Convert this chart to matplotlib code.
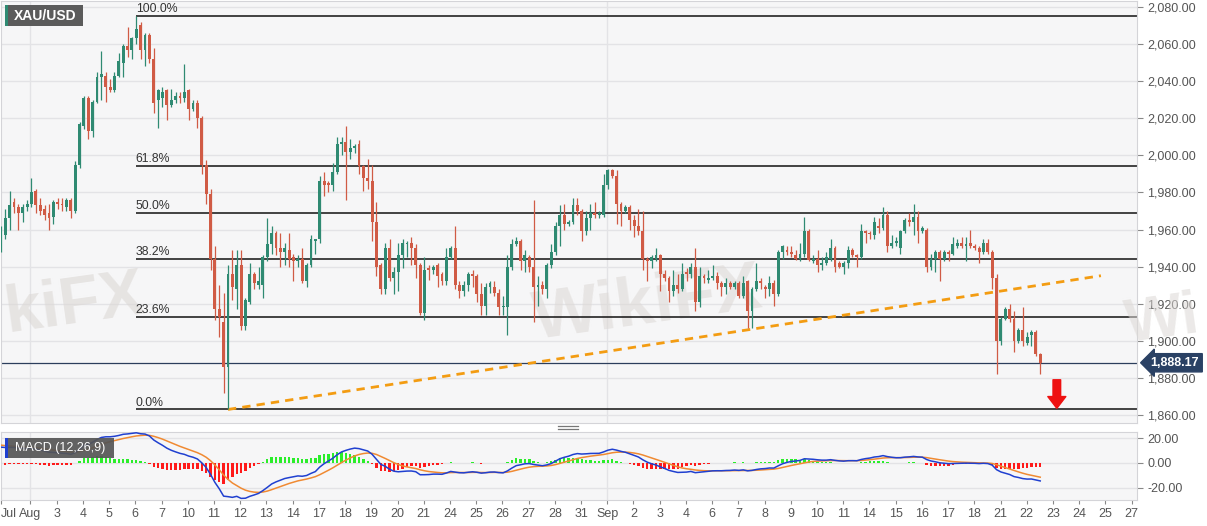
import numpy as np
import matplotlib
matplotlib.use("Agg")
import matplotlib.pyplot as plt
from matplotlib.patches import Rectangle
from matplotlib.lines import Line2D

plt.rcParams['font.family'] = ['Liberation Sans', 'DejaVu Sans']

# XAU/USD 4H candles, Jul 31 - Sep 22
opens = [1952, 1957, 1966, 1975, 1972, 1969, 1972, 1974, 1981, 1973, 1971, 1969, 1967, 1975, 1974, 1972, 1976, 1970, 1995, 2016,
         2031, 2013, 2029, 2042, 2043, 2037, 2035, 2043, 2050, 2059, 2057, 2063, 2070, 2057, 2065, 2052, 2030, 2031, 2035, 2027,
         2030, 2032, 2031, 2035, 2025, 2028, 2020, 1995, 1979, 1944, 1917, 1910, 1886, 1936, 1928, 1941, 1908, 1921, 1936, 1930,
         1930, 1945, 1952, 1958, 1950, 1948, 1949, 1945, 1943, 1944, 1932, 1941, 1954, 1955, 1986, 1985, 1984, 1991, 2006, 2007,
         2002, 2004, 2006, 1994, 1988, 1986, 1964, 1941, 1928, 1950, 1934, 1937, 1946, 1952, 1953, 1950, 1941, 1915, 1939, 1938,
         1941, 1936, 1932, 1945, 1950, 1930, 1927, 1930, 1936, 1935, 1925, 1919, 1929, 1929, 1926, 1918, 1918, 1940, 1952, 1954,
         1943, 1945, 1940, 1929, 1930, 1928, 1941, 1948, 1962, 1968, 1963, 1964, 1973, 1970, 1959, 1966, 1969, 1968, 1968, 1984,
         1992, 1989, 1974, 1970, 1972, 1965, 1962, 1959, 1944, 1943, 1944, 1946, 1936, 1934, 1927, 1930, 1928, 1937, 1936, 1940,
         1921, 1935, 1933, 1934, 1935, 1931, 1929, 1931, 1929, 1931, 1924, 1932, 1916, 1928, 1932, 1929, 1928, 1931, 1925, 1948,
         1949, 1948, 1946, 1944, 1947, 1959, 1943, 1944, 1941, 1942, 1944, 1950, 1942, 1940, 1942, 1949, 1946, 1945, 1959, 1958,
         1957, 1962, 1961, 1968, 1951, 1953, 1950, 1959, 1965, 1964, 1967, 1959, 1960, 1940, 1944, 1948, 1944, 1948, 1947, 1951,
         1953, 1951, 1953, 1951, 1950, 1948, 1953, 1948, 1934, 1900, 1912, 1917, 1912, 1900, 1906, 1899, 1903, 1905, 1893]
highs = [1962, 1971, 1981, 1977, 1974, 1974, 1976, 1988, 1982, 1977, 1973, 1974, 1976, 1977, 1977, 1977, 1977, 1997, 2018, 2032,
         2032, 2030, 2045, 2056, 2045, 2041, 2045, 2055, 2060, 2069, 2064, 2075.2, 2072, 2066, 2066, 2058, 2036, 2037, 2036, 2036,
         2034, 2034, 2049, 2036, 2030, 2030, 2021, 1997.6, 1982, 1951, 1930, 1926, 1941, 1949, 1949, 1949, 1923, 1942, 1937, 1940,
         1946, 1966, 1962, 1959, 1958, 1953, 1958, 1947, 1946, 1950, 1942, 1957, 1955, 1989, 1991, 1986, 1996, 2010, 2010, 2016,
         2009, 2006, 2008, 1995, 1998, 1995, 1975, 1942, 1953, 1955, 1940, 1953, 1955, 1954, 1956, 1952, 1942, 1945, 1941, 1941,
         1942, 1937, 1950, 1951, 1962, 1932, 1932, 1937, 1938, 1936, 1931, 1931, 1932, 1932, 1928, 1924, 1946, 1955, 1956, 1955,
         1949, 1946, 1976, 1935, 1932, 1942, 1952, 1964, 1973, 1974, 1965, 1977, 1977, 1971, 1970, 1974, 1975, 1970, 1990, 1992.5,
         1992.5, 1992, 1975, 1973, 1973, 1968, 1971, 1970, 1945, 1946, 1950, 1947, 1938, 1935, 1938, 1936, 1942, 1939, 1942, 1950,
         1940, 1936, 1938, 1941, 1937, 1932, 1934, 1932, 1932, 1932, 1935, 1933, 1929, 1942, 1934, 1930, 1935, 1933, 1949, 1951.5,
         1951, 1951, 1949, 1953, 1966.5, 1960.5, 1946, 1949, 1945, 1948, 1955, 1951, 1943, 1943, 1951, 1950, 1947, 1963, 1960, 1959,
         1967, 1966, 1972, 1970, 1957, 1956, 1960, 1966, 1969, 1974, 1970, 1962, 1961, 1947, 1949, 1949, 1949, 1949, 1956, 1955,
         1956, 1956, 1960, 1952, 1951, 1955, 1955, 1949, 1936, 1913, 1918.5, 1920, 1916, 1907, 1918, 1905, 1906, 1906, 1893.5]
lows = [1948, 1955, 1960, 1969, 1960, 1964, 1970, 1972, 1969, 1968, 1965, 1960, 1963, 1971, 1970, 1970, 1966, 1969, 1993, 2014,
        2009, 2010, 2028, 2030, 2029, 2034, 2034, 2042, 2042, 2053, 2052, 2060, 2052, 2048, 2050, 2023, 2015, 2026, 2019, 2026,
        2028, 2028, 2029, 2019, 2024, 2015, 1990, 1974, 1938, 1911, 1902, 1872, 1863, 1922, 1917, 1906, 1906, 1920, 1928, 1928,
        1923, 1943, 1947, 1946, 1940, 1941, 1940, 1932, 1940, 1931, 1929, 1940, 1947, 1953, 1978, 1980, 1981, 1990, 2000, 1976,
        1998, 2001, 1990, 1981, 1982, 1954, 1935, 1925, 1925, 1932, 1925, 1927, 1939, 1945, 1941, 1934, 1914, 1911, 1933, 1936,
        1929, 1930, 1930, 1944, 1928, 1923, 1924, 1927, 1929, 1921, 1914, 1914, 1926, 1924, 1914, 1914, 1903, 1938, 1951, 1938,
        1937, 1937, 1910, 1919, 1925, 1923, 1939, 1946, 1951, 1960, 1962, 1963, 1968, 1954, 1957, 1960, 1966, 1966, 1967, 1982,
        1988, 1963, 1962, 1969, 1960, 1956, 1957, 1938, 1932, 1939, 1943, 1927, 1932, 1921, 1924, 1926, 1927, 1932, 1934, 1916,
        1918, 1931, 1931, 1933, 1928, 1924, 1925, 1928, 1928, 1923, 1923, 1907, 1907, 1927, 1928, 1923, 1924, 1919, 1924, 1944,
        1946, 1945, 1943.5, 1943, 1945, 1943, 1942, 1937, 1938, 1941, 1943, 1937, 1939, 1936, 1939, 1945, 1940, 1944, 1953, 1955,
        1955, 1958, 1960, 1948, 1950, 1951, 1947, 1958, 1962, 1957, 1953, 1958, 1937, 1938, 1937, 1932, 1943, 1943, 1946, 1950,
        1950, 1943, 1950, 1949, 1942, 1947, 1947, 1928, 1882, 1898, 1911, 1910, 1894, 1899, 1897, 1898, 1897, 1892, 1882]
closes = [1958, 1966, 1973, 1972, 1969, 1972, 1974, 1980, 1973, 1970, 1968, 1966, 1975, 1974, 1973, 1976, 1970, 1995, 2017, 2031,
          2013, 2029, 2042, 2044, 2037, 2035, 2043, 2051, 2059, 2057, 2063, 2068, 2057, 2065, 2052, 2028, 2035, 2034, 2027, 2030,
          2032, 2031, 2034, 2025, 2028, 2020, 1995, 1979, 1944, 1917, 1913, 1886, 1936, 1929, 1941, 1908, 1922, 1936, 1931, 1932,
          1945, 1952, 1958, 1950, 1948, 1950, 1944, 1943, 1944, 1932, 1941, 1955, 1955, 1986, 1984, 1984, 1991, 2006, 2007, 2002,
          2004, 2005, 1994, 1988, 1986, 1964, 1940, 1928, 1950, 1934, 1937, 1946, 1953, 1953, 1950, 1941, 1915, 1938, 1938, 1940,
          1935, 1932, 1945, 1950, 1930, 1927, 1930, 1936, 1935, 1925, 1919, 1929, 1931, 1926, 1918, 1919, 1940, 1952, 1954, 1943,
          1946, 1940, 1929, 1930, 1928, 1941, 1948, 1962, 1968, 1963, 1964, 1973, 1970, 1959, 1966, 1969, 1968, 1969, 1984, 1992,
          1989, 1974, 1970, 1972, 1965, 1962, 1959, 1944, 1943, 1945, 1946, 1936, 1934, 1927, 1930, 1928, 1936, 1936, 1940, 1921,
          1935, 1934, 1934, 1935, 1931, 1929, 1931, 1929, 1931, 1924, 1931, 1916, 1928, 1932, 1931, 1928, 1931, 1925, 1948, 1951,
          1948, 1947, 1944, 1947, 1959, 1943.5, 1944, 1941, 1942, 1945, 1950, 1940, 1940, 1942, 1949, 1946, 1945, 1959, 1958, 1957.5,
          1964, 1961, 1968, 1951, 1953, 1954, 1959, 1965, 1964, 1967, 1959, 1961, 1940, 1944, 1948, 1944, 1948, 1947, 1952, 1953,
          1951, 1952, 1951, 1950, 1948, 1953, 1948, 1934, 1900, 1912, 1917, 1912, 1900, 1906, 1900, 1902, 1905, 1893, 1888.17]

day_labels = ["Jul", "Aug", "3", "4", "5", "6", "7", "10", "11", "12", "13", "14", "17", "18", "19", "20", "21",
              "24", "25", "26", "27", "28", "31", "Sep", "2", "3", "4", "6", "7", "8", "9", "10", "11", "14", "15",
              "16", "17", "18", "21", "22", "23", "24", "25", "27"]
month_starts = ["Aug", "Sep"]

fib_pcts = [0.0, 23.6, 38.2, 50.0, 61.8, 100.0]
swing_high = 2075.2
swing_low = 1863.0
high_bar = 31
low_bar = 52
trend_end_bar = 251.9
trend_end_price = 1935.1
last_price = 1888.17
macd_start = 14.0
signal_start = 15.0

GREEN = '#2f8a72'
RED = '#d05b45'
BG = '#f6f6f7'
GRID = '#e3e3e6'
TXT = '#555555'
WMARK = '#dcd8d5'

n = len(closes)
x = np.arange(n)
o = np.array(opens, float)
c = np.array(closes, float)
hi = np.array(highs, float)
lo = np.array(lows, float)

# macd 12,26,9
a12, a26, a9 = 2 / 13, 2 / 27, 2 / 10
e12 = c[0]
e26 = c[0] - macd_start
sig = signal_start
macd = []
signal = []
for p in c:
    e12 += a12 * (p - e12)
    e26 += a26 * (p - e26)
    m = e12 - e26
    sig += a9 * (m - sig)
    macd.append(m)
    signal.append(sig)
macd = np.array(macd)
signal = np.array(signal)
hist = macd - signal

W, H = 1207, 526
fig = plt.figure(figsize=(W / 100, H / 100), dpi=100)


def px(l, t, r, b):
    return [l / W, 1 - b / H, (r - l) / W, (b - t) / H]


ax = fig.add_axes(px(1, 1, 1137, 423))
ax2 = fig.add_axes(px(1, 432, 1137, 500))

ylo, yhi = 1855.7, 2083.2
xmin, xmax = 0.02, 260.16
tick_pos = [0.76 + 6.004 * k for k in range(len(day_labels))]
tick_pos[0] = xmin + 0.05

for a in (ax, ax2):
    a.set_facecolor(BG)
    a.set_xlim(xmin, xmax)
    for s in a.spines.values():
        s.set_color('#d4d4d8')
        s.set_linewidth(0.8)
    a.yaxis.tick_right()
    a.tick_params(axis='y', colors='#888888', labelcolor=TXT, labelsize=9, length=4, width=0.8)
    a.set_axisbelow(True)
    for k, lab in enumerate(day_labels):
        if lab in month_starts:
            a.axvline(tick_pos[k], color=GRID, lw=1, zorder=0)

# main panel
ax.set_ylim(ylo, yhi)
yt = np.arange(1860, 2081, 20)
ax.set_yticks(yt)
ax.set_yticklabels(['{:,.2f}'.format(v) for v in yt])
ax.set_xticks([])
for v in yt:
    ax.axhline(v, color=GRID, lw=1, zorder=0)

# watermark
ax.text(0.0, 0.215, 'kiFX', transform=ax.transAxes, fontsize=48, fontweight='bold',
        color=WMARK, alpha=0.6, rotation=8, zorder=0.5)
ax.text(0.465, 0.2, 'WikiFX', transform=ax.transAxes, fontsize=50, fontweight='bold',
        color=WMARK, alpha=0.55, rotation=8, zorder=0.5)
fig.text(1122 / W, 1 - 342 / H, 'Wi', fontsize=44, fontweight='bold',
         color=WMARK, alpha=0.55, rotation=8, zorder=0.5)

# fibonacci
for p in fib_pcts:
    lvl = swing_low + (swing_high - swing_low) * p / 100
    ax.hlines(lvl, high_bar, xmax, color='#111111', lw=1.1, zorder=2)
    ax.text(high_bar - 0.1, lvl + 0.4, '{:.1f}%'.format(p), fontsize=8.8, color='#333333',
            ha='left', va='bottom', zorder=3)

ax.axhline(last_price, color='#2c3e5c', lw=0.9, zorder=2)

# trend line
ax.plot([low_bar, trend_end_bar], [swing_low, trend_end_price], color='#f39c12',
        lw=2, ls=(0, (3, 2.2)), zorder=4)

# candles
cols = np.where(c >= o, GREEN, RED)
ax.vlines(x, lo, hi, colors=cols, lw=0.9, zorder=5)
ax.bar(x, np.maximum(np.abs(c - o), 0.7), 0.66, bottom=np.minimum(o, c), color=cols, lw=0, zorder=6)

# arrow
ax.annotate('', xy=(241.8, 1863.6), xytext=(241.8, 1879.0),
            arrowprops=dict(facecolor='#ee1111', edgecolor='#ee1111', width=5.5, headwidth=13,
                            headlength=8.5), zorder=7)

# last price tag
ax.text(1.012, (last_price - ylo) / (yhi - ylo), '{:,.2f}'.format(last_price),
        transform=ax.transAxes, ha='left', va='center', fontsize=9, fontweight='bold', color='white',
        bbox=dict(boxstyle='larrow,pad=0.25', fc='#2a4164', ec='#2a4164'), clip_on=False, zorder=8)

# macd panel
ax2.set_ylim(-30.2, 25.3)
ax2.set_yticks([20, 0, -20])
ax2.set_yticklabels(['20.00', '0.00', '-20.00'])
for v in (20, 0, -20):
    ax2.axhline(v, color=GRID, lw=1, zorder=0)
ax2.bar(x, hist, 0.55, color=np.where(hist >= 0, '#2aee2a', '#ff1a1a'), lw=0, zorder=2)
ax2.plot(x, signal, color='#f08a32', lw=1.1, zorder=3)
ax2.plot(x, macd, color='#2040d0', lw=1.1, zorder=4)
ax2.set_xticks(tick_pos)
ax2.set_xticklabels(day_labels)
ax2.tick_params(axis='x', colors='#888888', labelcolor=TXT, labelsize=9, length=3, width=0.8, pad=3)
ax2.get_xticklabels()[0].set_ha('left')

# title boxes
fig.add_artist(Rectangle((5 / W, 1 - 26 / H), 78 / W, 21 / H, transform=fig.transFigure,
                         fc='#5b5b5b', ec='none', zorder=10))
fig.add_artist(Rectangle((5 / W, 1 - 26 / H), 2.5 / W, 21 / H, transform=fig.transFigure,
                         fc='#2f8a72', ec='none', zorder=11))
fig.text(45 / W, 1 - 15.5 / H, 'XAU/USD', color='white', fontsize=10, fontweight='bold',
         ha='center', va='center', zorder=12)

fig.add_artist(Rectangle((5 / W, 1 - 458 / H), 109 / W, 20 / H, transform=fig.transFigure,
                         fc='#555555', ec='none', alpha=0.92, zorder=10))
fig.add_artist(Rectangle((5 / W, 1 - 458 / H), 2.5 / W, 20 / H, transform=fig.transFigure,
                         fc='#2040d0', ec='none', zorder=11))
fig.text(60 / W, 1 - 448 / H, 'MACD (12,26,9)', color='white', fontsize=9,
         ha='center', va='center', zorder=12)

# panel divider handle
for yy in (425.5, 428.5):
    fig.add_artist(Line2D([558 / W, 578 / W], [1 - yy / H, 1 - yy / H], transform=fig.transFigure,
                          color='#777777', lw=0.9))

fig.savefig('out.png', dpi=100)
